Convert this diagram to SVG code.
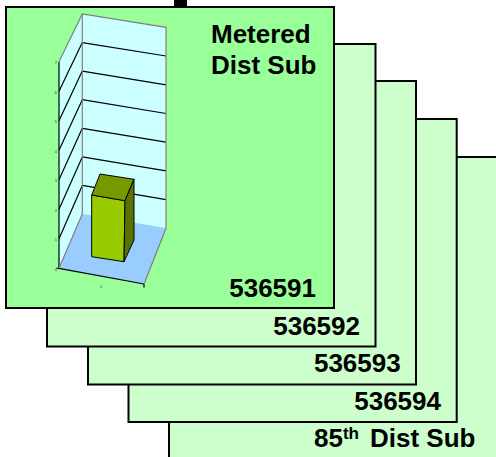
<svg xmlns="http://www.w3.org/2000/svg" width="496" height="457" viewBox="0 0 496 457">
<style>
.card{stroke:#000;stroke-width:2}
.front{fill:#99FF99}
.back{fill:#CCFFCC}
.lbl{font-family:"Liberation Sans",Arial,sans-serif;font-weight:bold;font-size:26px;fill:#000}
.grid{stroke:#000;stroke-width:1.2;fill:none}
.edge{stroke:#808080;stroke-width:1.2;fill:none}
.tick{font-family:"Liberation Sans",Arial,sans-serif;font-size:4px;fill:#333}
</style>
<rect x="0" y="0" width="496" height="457" fill="#fff"/>
<rect x="174" y="0" width="13" height="8" fill="#000"/>
<g id="card5">
<rect class="card back" x="169" y="157" width="330" height="304"/>
<text class="lbl" x="314" y="447">85<tspan font-size="17px" dy="-8">th</tspan></text>
<text class="lbl" x="370" y="447">Dist Sub</text>
</g>
<g id="card4">
<rect class="card back" x="128.5" y="119" width="328.2" height="303"/>
<text class="lbl" x="441" y="409.5" text-anchor="end">536594</text>
</g>
<g id="card3">
<rect class="card back" x="88" y="81" width="328" height="303.5"/>
<text class="lbl" x="400.7" y="372" text-anchor="end">536593</text>
</g>
<g id="card2">
<rect class="card back" x="47" y="44" width="328.5" height="302.5"/>
<text class="lbl" x="360" y="335" text-anchor="end">536592</text>
</g>
<g id="card1">
<rect class="card front" x="6" y="7" width="328" height="301"/>
<text class="lbl" x="211" y="43">Metered</text>
<text class="lbl" x="211" y="74">Dist Sub</text>
<text class="lbl" x="316" y="296.5" text-anchor="end">536591</text>
<g id="chart">
<polygon points="82.3,14 166,27.3 166,228.3 82.3,214" fill="#CCFFFF"/>
<polygon points="59,61.7 82.3,14 82.3,214 59,268.3" fill="#CCFFFF"/>
<polygon points="59,268.3 82.3,214 166,228.3 144,284" fill="#99CCFF"/>
<g class="grid">
<line x1="82.3" y1="185.4" x2="166" y2="199.6"/>
<line x1="82.3" y1="156.9" x2="166" y2="170.9"/>
<line x1="82.3" y1="128.3" x2="166" y2="142.2"/>
<line x1="82.3" y1="99.7" x2="166" y2="113.5"/>
<line x1="82.3" y1="71.1" x2="166" y2="84.8"/>
<line x1="82.3" y1="42.6" x2="166" y2="56.0"/>
<line x1="59" y1="238.8" x2="82.3" y2="185.4"/>
<line x1="59" y1="209.3" x2="82.3" y2="156.9"/>
<line x1="59" y1="179.8" x2="82.3" y2="128.3"/>
<line x1="59" y1="150.2" x2="82.3" y2="99.7"/>
<line x1="59" y1="120.7" x2="82.3" y2="71.1"/>
<line x1="59" y1="91.2" x2="82.3" y2="42.6"/>
<line x1="59" y1="61.7" x2="59" y2="269"/>
<line x1="59" y1="268.3" x2="144" y2="284"/>
<line x1="144" y1="284" x2="144" y2="287.5"/>
<line x1="56.5" y1="268.3" x2="59" y2="268.3"/>
</g>
<g class="edge">
<polyline points="59,61.7 82.3,14 166,27.3 166,228.3 144,284"/>
<line x1="82.3" y1="14" x2="82.3" y2="214"/>
<line x1="59" y1="268.3" x2="82.3" y2="214"/>
</g>
<g stroke="#000" stroke-width="1" stroke-linejoin="round">
<polygon points="91.7,195 125,200.7 124,261.7 91.7,256.7" fill="#99CC00"/>
<polygon points="91.7,195 100,174 134,179.3 125,200.7" fill="#779900"/>
<polygon points="125,200.7 134,179.3 134,240 124,261.7" fill="#5A7300"/>
</g>
<g class="tick" text-anchor="end">
<text x="57" y="270.5">0</text>
<text x="57" y="241.3">1</text>
<text x="57" y="211.8">2</text>
<text x="57" y="182.3">3</text>
<text x="57" y="152.7">4</text>
<text x="57" y="123.2">5</text>
<text x="57" y="93.7">6</text>
<text x="57" y="64.2">7</text>
</g>
<text class="tick" x="101" y="288" text-anchor="middle">1</text>
</g>
</g>
</svg>
